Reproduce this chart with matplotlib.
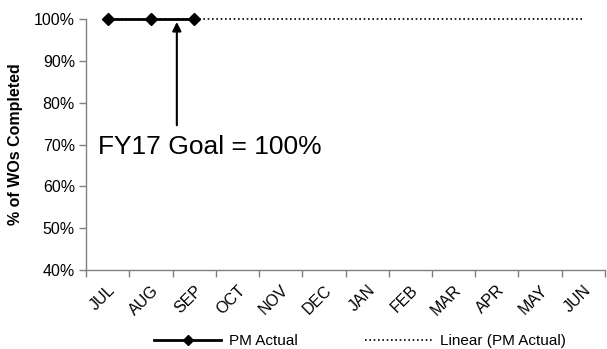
import numpy as np
import matplotlib
matplotlib.use("Agg")
import matplotlib.pyplot as plt
from matplotlib.lines import Line2D

plt.rcParams['font.family'] = ['Liberation Sans', 'DejaVu Sans']

months = ["JUL", "AUG", "SEP", "OCT", "NOV", "DEC",
          "JAN", "FEB", "MAR", "APR", "MAY", "JUN"]
pm_actual = [100, 100, 100]          # % of WOs completed, reported months
goal_label = "FY17 Goal = 100%"
yticks = [40, 50, 60, 70, 80, 90, 100]

fig = plt.figure(figsize=(6.07, 3.49), dpi=100)
ax = fig.add_axes([0.1417, 0.2264, 0.855, 0.719])

x_all = np.arange(len(months))
x_act = np.arange(len(pm_actual))

# linear trendline fitted to the actuals, projected over the full year
coef = np.polyfit(x_act, pm_actual, 1)
trend = np.polyval(coef, x_all)
ax.plot(x_all, trend, color="black", linestyle=(0, (1, 1.6)), linewidth=1.2,
        zorder=2, clip_on=False)

ax.plot(x_act, pm_actual, color="black", linewidth=2, marker="D",
        markersize=6, zorder=3, clip_on=False)

ax.set_xlim(-0.5, len(months) - 0.5)
ax.set_ylim(40, 100)
ax.set_yticks(yticks)
ax.set_yticklabels([f"{v}%" for v in yticks], fontsize=11.5)

ax.set_xticks(x_all)
ax.set_xticklabels(months, rotation=45, ha="right", va="top",
                   rotation_mode="anchor", fontsize=11.5)
ax.tick_params(axis="x", length=0, pad=9)
ax.set_xticks(np.arange(-0.5, len(months)), minor=True)
ax.tick_params(axis="x", which="minor", length=5, color="#808080", width=1)
ax.tick_params(axis="y", length=5, color="#808080", width=1, pad=3)

for s in ("top", "right"):
    ax.spines[s].set_visible(False)
for s in ("left", "bottom"):
    ax.spines[s].set_color("#808080")
    ax.spines[s].set_linewidth(1)

ax.set_ylabel("% of WOs Completed", fontsize=11.5, fontweight="bold", labelpad=8)

ax.annotate("", xy=(1.6, 99.3), xytext=(1.6, 74.6),
            arrowprops=dict(arrowstyle="-|>", color="black", lw=1.5,
                            mutation_scale=13, shrinkA=0, shrinkB=0))
ax.text(-0.22, 69.4, goal_label, fontsize=19, ha="left", va="center")

handles = [
    Line2D([], [], color="black", linewidth=2, marker="D", markersize=5),
    Line2D([], [], color="black", linewidth=1.2, linestyle=(0, (1, 1.6))),
]
fig.legend(handles, ["PM Actual", "Linear (PM Actual)"], loc="center",
           bbox_to_anchor=(0.593, 0.023), ncol=2, frameon=False, fontsize=11,
           handlelength=4.4, columnspacing=4.4, handletextpad=0.5)

fig.savefig("out.png", dpi=100)
